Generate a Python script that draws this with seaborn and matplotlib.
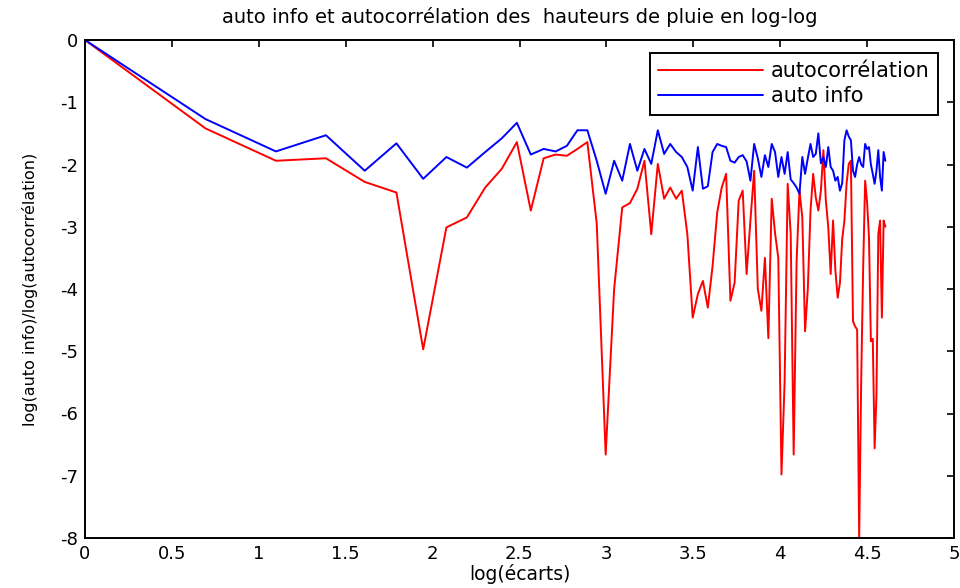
import numpy as np
import pandas as pd
import matplotlib
matplotlib.use("Agg")
import matplotlib.pyplot as plt
import seaborn as sns

# lags 1..100 (x axis = log(écarts))
ecarts = list(range(1, 101))

autocorrelation = [
    0.00, -1.42, -1.94, -1.90, -2.28, -2.45, -4.97, -3.01, -2.85, -2.37,
    -2.07, -1.64, -2.74, -1.90, -1.84, -1.86, -1.75, -1.64, -2.95, -6.66,
    -4.00, -2.69, -2.62, -2.39, -1.94, -3.12, -1.99, -2.55, -2.37, -2.55,
    -2.42, -3.12, -4.46, -4.08, -3.87, -4.30, -3.63, -2.77, -2.37, -2.15,
    -4.19, -3.90, -2.58, -2.42, -3.76, -2.90, -2.10, -4.00, -4.35, -3.50,
    -4.79, -2.55, -3.10, -3.50, -6.98, -5.50, -2.31, -3.12, -6.66, -3.55,
    -2.42, -2.85, -4.68, -4.00, -2.74, -2.15, -2.53, -2.74, -2.42, -1.77,
    -2.58, -3.01, -3.76, -2.90, -3.70, -4.14, -3.90, -3.20, -2.90, -2.30,
    -1.99, -1.94, -4.52, -4.60, -4.65, -8.00, -5.48, -3.66, -2.26, -2.60,
    -3.17, -4.84, -4.80, -6.56, -5.70, -3.12, -2.90, -4.46, -2.90, -3.00,
]

auto_info = [
    0.00, -1.27, -1.79, -1.53, -2.10, -1.66, -2.23, -1.88, -2.05, -1.80,
    -1.58, -1.33, -1.84, -1.75, -1.79, -1.70, -1.45, -1.45, -1.94, -2.47,
    -1.94, -2.26, -1.67, -2.10, -1.75, -1.99, -1.45, -1.83, -1.67, -1.80,
    -1.88, -2.04, -2.42, -1.72, -2.39, -2.35, -1.80, -1.67, -1.70, -1.72,
    -1.94, -1.97, -1.88, -1.85, -1.95, -2.26, -1.67, -1.90, -2.20, -1.85,
    -2.04, -1.67, -1.80, -2.20, -1.88, -2.15, -1.80, -2.24, -2.30, -2.37,
    -2.47, -1.88, -2.15, -1.90, -1.67, -1.88, -1.83, -1.50, -1.98, -1.88,
    -2.04, -1.72, -2.04, -2.10, -2.26, -2.20, -2.42, -2.30, -1.61, -1.45,
    -1.55, -1.61, -2.10, -2.20, -2.00, -1.88, -2.00, -2.04, -1.67, -1.75,
    -1.72, -2.00, -2.15, -2.31, -2.10, -1.77, -2.20, -2.42, -1.80, -1.94,
]

xticks = [0, 0.5, 1, 1.5, 2, 2.5, 3, 3.5, 4, 4.5, 5]
xticklabels = ["0", "0.5", "1", "1.5", "2", "2.5", "3", "3.5", "4", "4.5", "5"]
yticks = [0, -1, -2, -3, -4, -5, -6, -7, -8]

df = pd.DataFrame({
    "x": np.log(np.array(ecarts, dtype=float)),
    "autocorrélation": autocorrelation,
    "auto info": auto_info,
})

sns.set_style("white")
plt.rcParams["font.family"] = ["DejaVu Sans"]
plt.rcParams["text.color"] = "black"
plt.rcParams["axes.labelcolor"] = "black"

fig = plt.figure(figsize=(9.6, 5.88), dpi=100)
ax = fig.add_axes([85 / 960, 1 - 538 / 588, (954 - 85) / 960, (538 - 40) / 588])

sns.lineplot(data=df, x="x", y="autocorrélation", color="#ff0000", lw=1.4,
             ax=ax, label="autocorrélation", sort=False)
sns.lineplot(data=df, x="x", y="auto info", color="#0000ff", lw=1.4,
             ax=ax, label="auto info", sort=False)

ax.set_xlim(0, 5)
ax.set_ylim(-8, 0)
ax.set_xticks(xticks)
ax.set_xticklabels(xticklabels)
ax.set_yticks(yticks)
ax.set_yticklabels([str(v) for v in yticks])
ax.tick_params(direction="in", length=5, width=1.2, top=True, right=True,
               labelsize=13, colors="black", pad=5)
for s in ax.spines.values():
    s.set_visible(True)
    s.set_color("black")
    s.set_linewidth(1.4)

ax.set_title("auto info et autocorrélation des  hauteurs de pluie en log-log",
             fontsize=14, pad=12, color="black")
ax.set_xlabel("log(écarts)", fontsize=13.5, labelpad=1, color="black")
ax.set_ylabel("log(auto info)/log(autocorrélation)", fontsize=11.5, labelpad=16,
              color="black")

leg = ax.legend(loc="upper right", bbox_to_anchor=(0.9816, 0.974),
                borderaxespad=0, fancybox=False, frameon=True,
                edgecolor="black", fontsize=15, handlelength=5.0,
                handletextpad=0.4, borderpad=0.4, labelspacing=0.25)
for t in leg.get_texts():
    t.set_color("black")
leg.get_frame().set_linewidth(1.4)
leg.get_frame().set_alpha(1)

fig.savefig("out.png", dpi=100, facecolor="white")
